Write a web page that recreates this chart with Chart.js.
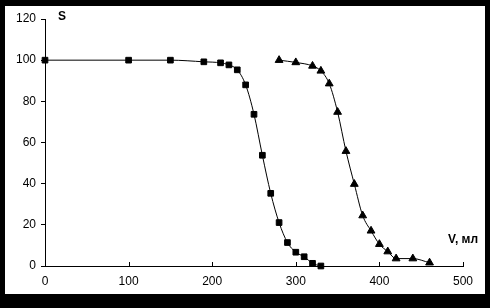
<!DOCTYPE html>
<html>
<head>
<meta charset="utf-8">
<script src="https://cdn.jsdelivr.net/npm/chart.js@4"></script>
<style>
  html, body { margin: 0; padding: 0; background: #000; }
  body { width: 490px; height: 308px; position: relative; overflow: hidden; }
  #wrap { position: absolute; left: 5px; top: 6px; width: 480px; height: 288px; background: #fff; }
  canvas { display: block; }
</style>
</head>
<body>
<div id="wrap"><canvas id="chart" width="480" height="288"></canvas></div>
<script>
// ---- data ----
const squareV = [0, 100, 150, 190, 210, 220, 230, 240, 250, 260, 270, 280, 290, 300, 310, 320, 330];
const squareS = [100, 100, 100, 99.2, 98.7, 97.7, 95.3, 88, 73.7, 53.8, 35.3, 21.1, 11.4, 6.7, 4.5, 1.3, 0];

const triangleV = [280, 300, 320, 330, 340, 350, 360, 370, 380, 390, 400, 410, 420, 440, 460];
const triangleS = [100, 98.9, 97.2, 94.8, 88.6, 74.8, 55.8, 39.8, 24.5, 17.1, 10.6, 7, 3.6, 3.6, 1.6];

const xTicks = [0, 100, 200, 300, 400, 500];
const yTicks = [0, 20, 40, 60, 80, 100, 120];

const yTitle = 'S';
const xTitle = 'V, мл';

const FONT = 'Liberation Sans, Arial, sans-serif';

function toPoints(xs, ys) {
    return xs.map((x, i) => ({ x: x, y: ys[i] }));
}

// inward x ticks + axis titles
const decorPlugin = {
    id: 'decor',
    afterDraw(chart) {
        const c = chart.ctx;
        const xs = chart.scales.x;
        const area = chart.chartArea;
        c.save();
        c.strokeStyle = '#000';
        c.lineWidth = 1;
        c.beginPath();
        xTicks.forEach(v => {
            if (v === 0) return;
            const px = Math.round(xs.getPixelForValue(v)) + 0.5;
            c.moveTo(px, area.bottom);
            c.lineTo(px, area.bottom - 4);
        });
        c.stroke();

        c.fillStyle = '#000';
        c.font = 'bold 12px ' + FONT;
        c.textBaseline = 'middle';
        c.textAlign = 'left';
        c.fillText(yTitle, area.left + 13, area.top - 2);
        c.fillText(xTitle, 443, 234);
        c.restore();
    }
};

const ctx = document.getElementById('chart').getContext('2d');
new Chart(ctx, {
    type: 'line',
    data: {
        datasets: [
            {
                label: 'squares',
                data: toPoints(squareV, squareS),
                borderColor: '#000',
                backgroundColor: '#000',
                borderWidth: 1,
                pointStyle: 'rect',
                pointRadius: 4,
                cubicInterpolationMode: 'monotone',
                clip: false
            },
            {
                label: 'triangles',
                data: toPoints(triangleV, triangleS),
                borderColor: '#000',
                backgroundColor: '#000',
                borderWidth: 1,
                pointStyle: 'triangle',
                pointRadius: 4.5,
                cubicInterpolationMode: 'monotone',
                clip: false
            }
        ]
    },
    options: {
        responsive: false,
        animation: false,
        layout: { padding: { top: 13, right: 22, left: 0, bottom: 0 } },
        plugins: {
            legend: { display: false },
            tooltip: { enabled: false }
        },
        scales: {
            x: {
                type: 'linear',
                min: 0,
                max: 500,
                afterFit: s => { s.height = 28; },
                afterBuildTicks: s => { s.ticks = xTicks.map(v => ({ value: v })); },
                border: { color: '#000', width: 1 },
                grid: { display: true, drawOnChartArea: false, drawTicks: false, color: 'rgba(0,0,0,0)' },
                ticks: { color: '#000', font: { family: FONT, size: 12 }, padding: 8, maxRotation: 0 }
            },
            y: {
                type: 'linear',
                min: 0,
                max: 120,
                afterFit: s => { s.width = 40; },
                afterBuildTicks: s => { s.ticks = yTicks.map(v => ({ value: v })); },
                border: { color: '#000', width: 1 },
                grid: { drawOnChartArea: false, drawTicks: true, tickLength: 4, color: '#000' },
                ticks: { color: '#000', font: { family: FONT, size: 12 }, padding: 5 }
            }
        }
    },
    plugins: [decorPlugin]
});
</script>
</body>
</html>
